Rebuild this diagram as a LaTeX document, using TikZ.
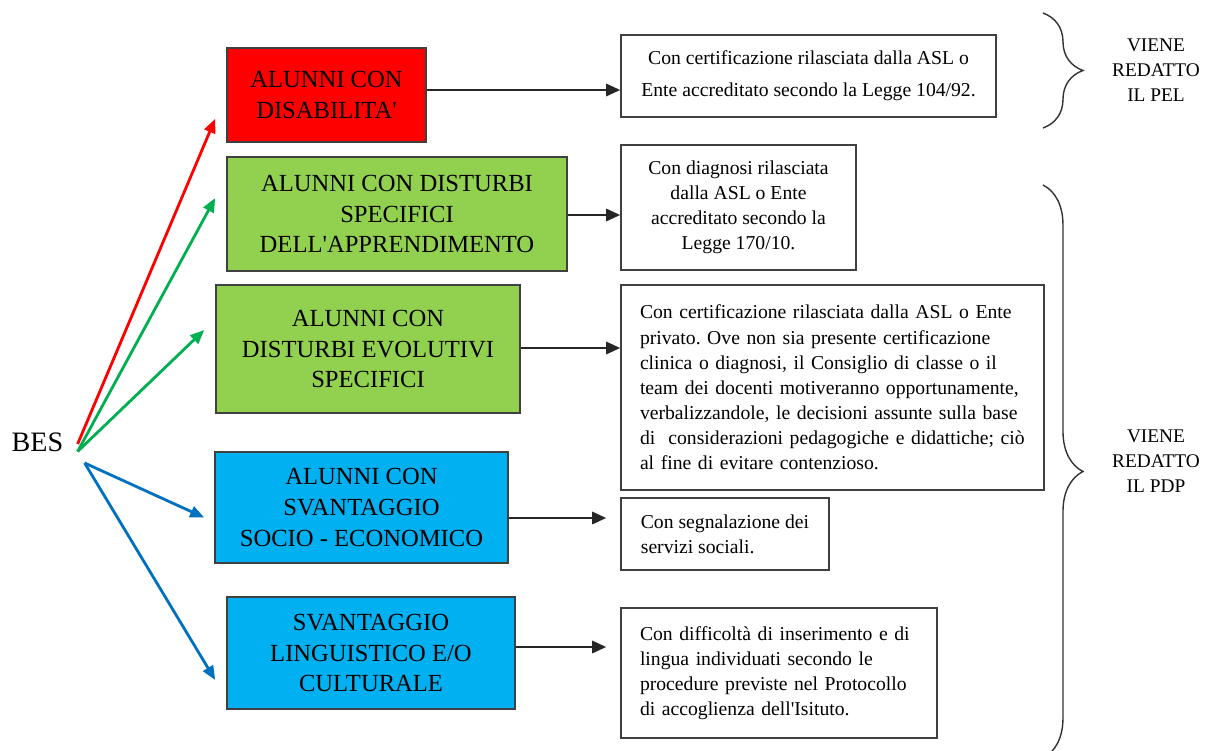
\documentclass[tikz,border=0pt]{standalone}
\usepackage{fontspec}
\setmainfont{Liberation Serif}
\usepackage{xcolor}
\definecolor{besred}{RGB}{255,0,0}
\definecolor{besgreen}{RGB}{146,208,80}
\definecolor{besblue}{RGB}{0,176,240}
\definecolor{arrgreen}{RGB}{0,176,80}
\definecolor{arrblue}{RGB}{0,112,192}
\usetikzlibrary{arrows.meta, positioning, calc, decorations.pathreplacing}
\newdimen\pxu \pxu=0.02cm
\frenchspacing

\tikzset{
  catbox/.style={draw=black!75, line width=0.9pt, align=center, inner sep=0pt,
    font=\fontsize{14}{17.6}\selectfont},
  infobox/.style={draw=black!75, line width=0.9pt, fill=white, inner sep=0pt,
    font=\fontsize{11.2}{14.3}\selectfont},
  besarrow/.style={line width=1.6pt, -{Triangle[length=8pt,width=6.5pt]}},
  conn/.style={line width=1.3pt, black!85, -{Triangle[length=8pt,width=7pt]}},
  lbl/.style={align=center, inner sep=0pt, font=\fontsize{11}{14.2}\selectfont},
  bracket/.style={draw=black!80, line width=0.8pt, decorate,
    decoration={brace, amplitude=0.8cm}}
}

\begin{document}
\begin{tikzpicture}[x=0.02cm, y=-0.02cm]
  \useasboundingbox (0,0) rectangle (1205,751);
  \clip (0,0) rectangle (1205,751);

  % --- Root ---
  \node[font=\fontsize{16}{19}\selectfont, inner sep=0pt] (bes) at (37.5,442.5) {BES};

  % --- Category boxes ---
  \node[catbox, fill=besred, minimum width=199\pxu, minimum height=94\pxu] (dis) at (326.5,95)
    {ALUNNI CON\\DISABILITA\textquotesingle};
  \node[catbox, fill=besgreen, minimum width=340\pxu, minimum height=114\pxu] (dsa) at (397,214)
    {ALUNNI CON DISTURBI\\SPECIFICI\\DELL\textquotesingle APPRENDIMENTO};
  \node[catbox, fill=besgreen, minimum width=304\pxu, minimum height=128\pxu] (dev) at (368,349)
    {ALUNNI CON\\DISTURBI EVOLUTIVI\\SPECIFICI};
  \node[catbox, fill=besblue, minimum width=293\pxu, minimum height=111\pxu] (svs) at (361.5,507.5)
    {ALUNNI CON\\SVANTAGGIO\\SOCIO - ECONOMICO};
  \node[catbox, fill=besblue, minimum width=288\pxu, minimum height=112\pxu] (lin) at (371,653)
    {SVANTAGGIO\\LINGUISTICO E/O\\CULTURALE};

  % --- Info boxes ---
  \node[infobox, align=center, minimum width=375\pxu, minimum height=82\pxu,
    font=\fontsize{11.2}{18}\selectfont] (r1) at (808.5,76)
    {Con certificazione rilasciata dalla ASL o\\Ente accreditato secondo la Legge 104/92.};
  \node[infobox, align=center, minimum width=235\pxu, minimum height=125\pxu] (r2) at (738.5,207.5)
    {Con diagnosi rilasciata\\dalla ASL o Ente\\accreditato secondo la\\Legge 170/10.};
  \node[infobox, align=left, text width=385\pxu, inner xsep=19\pxu, minimum height=205\pxu] (r3) at (832.5,387.5)
    {Con certificazione rilasciata dalla ASL o Ente\\
     privato. Ove non sia presente certificazione\\
     clinica o diagnosi, il Consiglio di classe o il\\
     team dei docenti motiveranno opportunamente,\\
     verbalizzandole, le decisioni assunte sulla base\\
     di~ considerazioni pedagogiche e didattiche; ciò\\
     al fine di evitare contenzioso.};
  \node[infobox, align=left, minimum width=208\pxu, minimum height=72\pxu] (r4) at (725,534)
    {Con segnalazione dei\\servizi sociali.};
  \node[infobox, align=left, text width=278\pxu, inner xsep=19\pxu, minimum height=130\pxu] (r5) at (779,673)
    {Con difficoltà di inserimento e di\\
     lingua individuati secondo le\\
     procedure previste nel Protocollo\\
     di accoglienza dell\textquotesingle Isituto.};

  % --- Arrows from BES ---
  \coordinate (ored) at ($(bes.east)+(14,1.5)$);
  \coordinate (ogreen) at ($(bes.east)+(14,9)$);
  \coordinate (oblue) at ($(bes.east)+(21,20.5)$);
  \coordinate (tdis) at ($(dis.south west)+(-11,-24)$);
  \coordinate (tdsa) at ($(dsa.west)+(-11,-16)$);
  \coordinate (tdev) at ($(dev.west)+(-11,-19)$);
  \coordinate (tsvs) at ($(svs.west)+(-10,10)$);
  \coordinate (tlin) at ($(lin.west)+(-11,27)$);
  \draw[besarrow, besred] (ored) -- (tdis);
  \draw[besarrow, arrgreen] (ogreen) -- (tdsa);
  \draw[besarrow, arrgreen] (ogreen) -- (tdev);
  \draw[besarrow, arrblue] (oblue) -- (tsvs);
  \draw[besarrow, arrblue] (oblue) -- (tlin);

  % --- Connectors to info boxes ---
  \coordinate (a1) at ($(dis.east)+(0,-5)$);
  \coordinate (a2) at ($(dsa.east)+(0,1)$);
  \coordinate (a3) at ($(dev.east)+(0,-1)$);
  \coordinate (a4) at ($(svs.east)+(0,10.5)$);
  \coordinate (a5) at ($(lin.east)+(0,-6)$);
  \draw[conn] (a1) -- (a1 -| r1.west);
  \draw[conn] (a2) -- (a2 -| r2.west);
  \draw[conn] (a3) -- (a3 -| r3.west);
  \draw[conn, shorten >=14\pxu] (a4) -- (a4 -| r4.west);
  \draw[conn, shorten >=14\pxu] (a5) -- (a5 -| r5.west);

  % --- Braces and outcomes ---
  \draw[bracket] (1043,13) -- (1043,128);
  \draw[bracket] (1043,185) -- (1043,758);
  \node[lbl] (pei) at (1156,70) {VIENE\\REDATTO\\IL PEL};
  \node[lbl] (pdp) at (1156,461) {VIENE\\REDATTO\\IL PDP};
\end{tikzpicture}
\end{document}
